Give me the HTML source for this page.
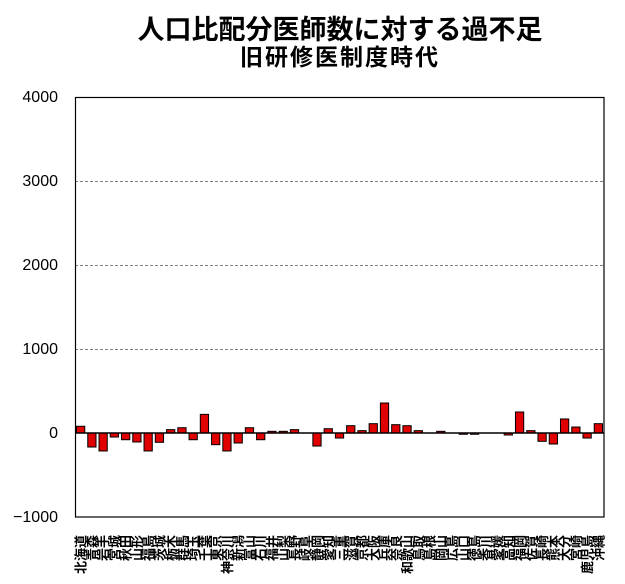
<!DOCTYPE html>
<html><head><meta charset="utf-8"><style>
body{margin:0;background:#fff;}
svg text{font-family:"Liberation Sans","Noto Sans CJK JP",sans-serif;}
</style></head><body>
<svg width="625" height="579" xmlns="http://www.w3.org/2000/svg">
<text x="340" y="39" font-size="27" font-weight="bold" text-anchor="middle">人口比配分医師数に対する過不足</text>
<text x="340" y="65" font-size="23" font-weight="bold" text-anchor="middle" letter-spacing="2">旧研修医制度時代</text>
<g font-size="16" text-anchor="end">
<text x="58" y="102">4000</text>
<text x="58" y="186">3000</text>
<text x="58" y="270">2000</text>
<text x="58" y="354">1000</text>
<text x="58" y="438">0</text>
<text x="58" y="522">−1000</text>
</g>
<g stroke="#808080" stroke-dasharray="3,2" stroke-width="1">
<line x1="75" y1="181.5" x2="604" y2="181.5"/>
<line x1="75" y1="265.5" x2="604" y2="265.5"/>
<line x1="75" y1="349.5" x2="604" y2="349.5"/>
</g>
<g id="bars" fill="#e00000" stroke="#000" stroke-width="1"></g>
<line x1="75" y1="433" x2="604" y2="433" stroke="#000" stroke-width="1.5"/>
<rect x="75.5" y="97.5" width="528.5" height="419.5" fill="none" stroke="#000" stroke-width="1.2"/>
<g id="labels" font-size="13" font-weight="bold"></g>
</svg>
<script>
var v=[80,-167,-214,-48,-80,-107,-214,-111,40,63,-80,222,-139,-214,-119,63,-80,20,20,40,0,-155,51,-60,87,28,111,357,99,87,28,0,20,0,-15,-15,0,0,-24,250,28,-99,-131,167,71,-60,111];
var n=["北海道","青森","岩手","宮城","秋田","山形","福島","茨城","栃木","群馬","埼玉","千葉","東京","神奈川","新潟","富山","石川","福井","山梨","長野","岐阜","静岡","愛知","三重","滋賀","京都","大阪","兵庫","奈良","和歌山","鳥取","島根","岡山","広島","山口","徳島","香川","愛媛","高知","福岡","佐賀","長崎","熊本","大分","宮崎","鹿児島","沖縄"];
var ns="http://www.w3.org/2000/svg",w=529/47,b=document.getElementById("bars"),l=document.getElementById("labels");
for(var i=0;i<47;i++){
 var x=75+i*w+1.5,h=v[i]*0.084;
 if(Math.abs(h)>=0.5){
 var r=document.createElementNS(ns,"rect");
 r.setAttribute("x",x);r.setAttribute("width",w-3);
 r.setAttribute("y",h>0?433-h:433);r.setAttribute("height",Math.abs(h));
 b.appendChild(r);}
 var t=document.createElementNS(ns,"text");
 var cx=75+i*w+w/2+5, cy=535;
 t.setAttribute("x",cx);t.setAttribute("y",cy);
 t.setAttribute("transform","rotate(-90 "+cx+" "+cy+")");
 t.setAttribute("text-anchor","end");
 t.textContent=n[i];l.appendChild(t);
}
</script>
</body></html>
